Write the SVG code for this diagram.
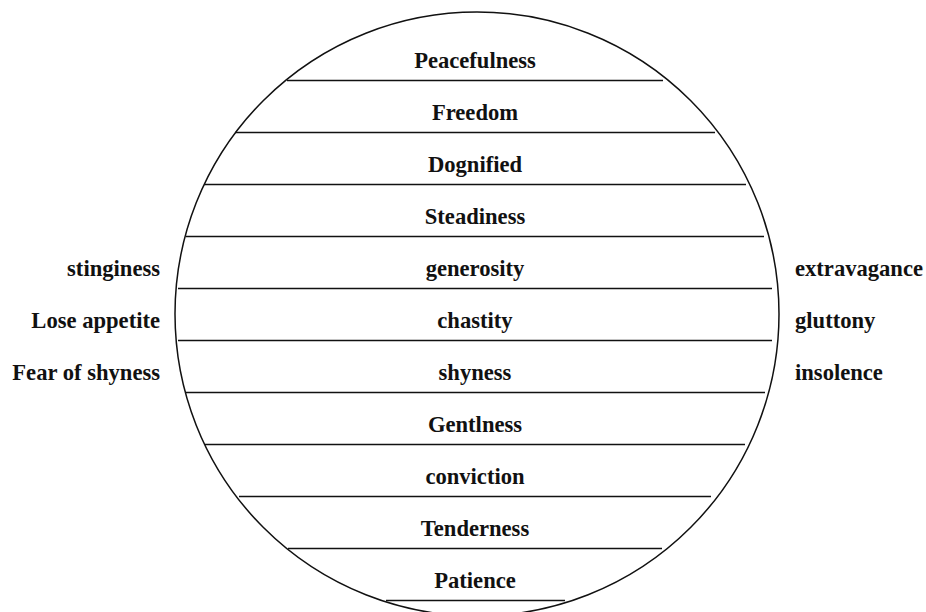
<svg xmlns="http://www.w3.org/2000/svg" width="926" height="612" viewBox="0 0 926 612">
<style>
text{font-family:"Liberation Serif","Times New Roman",serif;font-weight:bold;font-size:22.6px;fill:#111}
.c{text-anchor:middle}
.l{text-anchor:end}
.r{text-anchor:start}
.band{stroke:#111;stroke-width:1.3;fill:none}
.ring{stroke:#111;stroke-width:1.5;fill:none}
</style>
<rect width="926" height="612" fill="#fff"/>
<g id="circle"><circle class="ring" cx="477" cy="314" r="302"/></g>
<g id="connectors">
<line class="band" x1="287" y1="80.5" x2="663" y2="80.5"/>
<line class="band" x1="235" y1="132.5" x2="715" y2="132.5"/>
<line class="band" x1="204" y1="184.5" x2="746" y2="184.5"/>
<line class="band" x1="186" y1="236.5" x2="764" y2="236.5"/>
<line class="band" x1="178" y1="288.5" x2="772" y2="288.5"/>
<line class="band" x1="178" y1="340.5" x2="772" y2="340.5"/>
<line class="band" x1="185" y1="392.5" x2="765" y2="392.5"/>
<line class="band" x1="205" y1="444.5" x2="745" y2="444.5"/>
<line class="band" x1="239" y1="496.5" x2="711" y2="496.5"/>
<line class="band" x1="288" y1="548.5" x2="662" y2="548.5"/>
<line class="band" x1="386" y1="600.5" x2="565" y2="600.5"/>
</g>
<g id="n1"><text class="c" x="475" y="67.5">Peacefulness</text></g>
<g id="n2"><text class="c" x="475" y="119.5">Freedom</text></g>
<g id="n3"><text class="c" x="475" y="171.5">Dognified</text></g>
<g id="n4"><text class="c" x="475" y="223.5">Steadiness</text></g>
<g id="n5"><text class="c" x="475" y="275.5">generosity</text></g>
<g id="n6"><text class="c" x="475" y="327.5">chastity</text></g>
<g id="n7"><text class="c" x="475" y="379.5">shyness</text></g>
<g id="n8"><text class="c" x="475" y="431.5">Gentlness</text></g>
<g id="n9"><text class="c" x="475" y="483.5">conviction</text></g>
<g id="n10"><text class="c" x="475" y="535.5">Tenderness</text></g>
<g id="n11"><text class="c" x="475" y="587.5">Patience</text></g>
<g id="left1"><text class="l" x="160" y="275.5">stinginess</text></g>
<g id="left2"><text class="l" x="160" y="327.5">Lose appetite</text></g>
<g id="left3"><text class="l" x="160" y="379.5">Fear of shyness</text></g>
<g id="right1"><text class="r" x="795" y="275.5">extravagance</text></g>
<g id="right2"><text class="r" x="795" y="327.5">gluttony</text></g>
<g id="right3"><text class="r" x="795" y="379.5">insolence</text></g>
</svg>
